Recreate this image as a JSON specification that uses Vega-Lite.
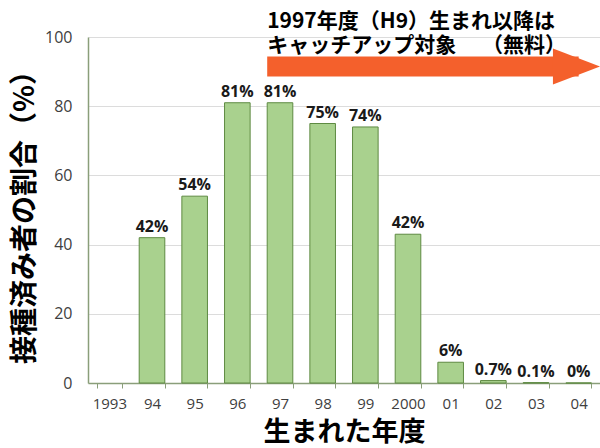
{
  "$schema": "https://vega.github.io/schema/vega-lite/v6.json",
  "autosize": {"type": "none"},
  "width": 512,
  "height": 346,
  "padding": {"left": 88, "top": 37, "right": 0, "bottom": 65},
  "background": "white",
  "config": {"view": {"stroke": null}},
  "layer": [
    {
      "data": {"values": [
        {"year": "94", "value": 42, "label": "42%"},
        {"year": "95", "value": 54, "label": "54%"},
        {"year": "96", "value": 81, "label": "81%"},
        {"year": "97", "value": 81, "label": "81%"},
        {"year": "98", "value": 75, "label": "75%"},
        {"year": "99", "value": 74, "label": "74%"},
        {"year": "2000", "value": 43, "label": "42%"},
        {"year": "01", "value": 6, "label": "6%"},
        {"year": "02", "value": 0.7, "label": "0.7%"},
        {"year": "03", "value": 0.1, "label": "0.1%"},
        {"year": "04", "value": 0, "label": "0%"}
      ]},
      "layer": [
        {
          "mark": {"type": "bar", "fill": "#a9d18e", "stroke": "#5e8a42", "strokeWidth": 1},
          "encoding": {
            "x": {
              "field": "year", "type": "ordinal", "sort": null,
              "scale": {"domain": ["1993","94","95","96","97","98","99","2000","01","02","03","04"], "paddingInner": 0.4, "paddingOuter": 0.2},
              "axis": {
                "title": "生まれた年度",
                "titleFont": "Noto Sans CJK JP", "titleFontSize": 27, "titleFontWeight": "bold", "titleColor": "#000000", "titlePadding": 8,
                "labelFont": "Open Sans", "labelFontSize": 15, "labelColor": "#404040", "labelPadding": 8, "labelAngle": 0,
                "domainColor": "#8a9e7a", "domainWidth": 1.5,
                "tickColor": "#8a9e7a", "tickSize": 5, "tickBand": "extent",
                "grid": false
              }
            },
            "y": {
              "field": "value", "type": "quantitative",
              "scale": {"domain": [0, 100], "nice": false},
              "axis": {
                "title": "接種済み者の割合（%）",
                "titleFont": "Noto Sans CJK JP", "titleFontSize": 28, "titleFontWeight": "bold", "titleColor": "#000000", "titlePadding": 5,
                "values": [0,10,20,30,40,50,60,70,80,90,100],
                "labelExpr": "datum.value % 20 == 0 ? datum.label : ''",
                "labelFont": "Open Sans", "labelFontSize": 16, "labelColor": "#404040", "labelPadding": 16,
                "domainColor": "#8a9e7a", "domainWidth": 1.5,
                "tickColor": "#8a9e7a", "tickSize": 0,
                "grid": true, "gridColor": "#dcdcdc",
                "gridOpacity": {"condition": {"test": "datum.value % 20 == 0", "value": 1}, "value": 0}
              }
            }
          }
        },
        {
          "mark": {"type": "text", "font": "Open Sans", "fontSize": 16, "fontWeight": "bold", "color": "#1a1a1a", "baseline": "bottom", "dy": -3},
          "encoding": {
            "x": {"field": "year", "type": "ordinal", "sort": null},
            "y": {"field": "value", "type": "quantitative"},
            "text": {"field": "label"}
          }
        }
      ]
    },
    {
      "data": {"values": [{"from": "97", "to": "04", "level": 91.5, "note": "1997年度（H9）生まれ以降は\nキャッチアップ対象　 （無料）", "noteTop": 107.6}]},
      "layer": [
        {
          "mark": {"type": "rule", "color": "#f4602c", "strokeWidth": 20},
          "encoding": {
            "x": {"field": "from", "type": "ordinal", "bandPosition": 0},
            "x2": {"field": "to"},
            "y": {"field": "level", "type": "quantitative"}
          }
        },
        {
          "mark": {"type": "point", "shape": "M-1,-0.7L0.83,0L-1,0.7Z", "size": 2642, "filled": true, "opacity": 1, "color": "#f4602c", "strokeWidth": 0},
          "encoding": {
            "x": {"field": "to", "type": "ordinal"},
            "y": {"field": "level", "type": "quantitative"}
          }
        },
        {
          "mark": {"type": "text", "font": "Noto Sans CJK JP", "fontSize": 21, "fontWeight": "bold", "color": "#000000", "align": "left", "baseline": "top", "lineBreak": "\n", "lineHeight": 24},
          "encoding": {
            "x": {"field": "from", "type": "ordinal", "bandPosition": 0},
            "y": {"field": "noteTop", "type": "quantitative"},
            "text": {"field": "note"}
          }
        }
      ]
    }
  ]
}
